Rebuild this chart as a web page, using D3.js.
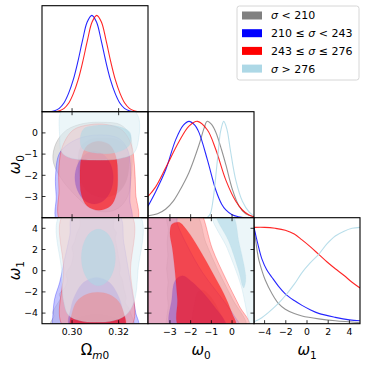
<!DOCTYPE html>
<html>
<head>
<meta charset="utf-8">
<script src="https://cdn.jsdelivr.net/npm/d3@7"></script>
<style>
  html, body { margin: 0; padding: 0; background: #fff; }
  svg { display: block; font-family: 'DejaVu Sans', sans-serif; }
</style>
</head>
<body>
<div id="chart"></div>
<script>
// series (legend order = drawing order)
const seriesLabels = ['σ < 210', '210 ≤ σ < 243', '243 ≤ σ ≤ 276', 'σ > 276'];
const seriesColors = ['#808080', '#0000ff', '#ff0000', '#add8e6'];

// tick values
const omTicks = [0.30, 0.32];
const w0Ticks = [-3, -2, -1, 0];
const w1Ticks = [-4, -2, 0, 2, 4];

// axis ranges
const omRange = [0.2871, 0.3326];
const w0RangeX = [-4.06, 1.06];
const w0RangeY = [-4.0, 1.0];
const w1Range = [-5, 5];

// 1D marginals [value, relative density]
const om1dBlue = [[0.2905,0],[0.2925,0.01],[0.2945,0.035],[0.2965,0.09],[0.2985,0.19],[0.3005,0.33],[0.3025,0.52],[0.3045,0.74],[0.3065,0.93],[0.3085,1],[0.3105,0.93],[0.3125,0.74],[0.3145,0.52],[0.3165,0.33],[0.3185,0.19],[0.3205,0.09],[0.3225,0.035],[0.3245,0.01],[0.3265,0]];
const om1dRed = [[0.2926,0],[0.2946,0.01],[0.2966,0.035],[0.2986,0.09],[0.3006,0.19],[0.3026,0.33],[0.3046,0.52],[0.3066,0.74],[0.3086,0.93],[0.3106,1],[0.3126,0.93],[0.3146,0.74],[0.3166,0.52],[0.3186,0.33],[0.3206,0.19],[0.3226,0.09],[0.3246,0.035],[0.3266,0.01],[0.3286,0]];

const w01dGray = [[-4.06,0.02],[-3.6,0.04],[-3.2,0.09],[-2.85,0.17],[-2.56,0.27],[-2.08,0.47],[-1.59,0.76],[-1.35,0.93],[-1.2,1],[-1.0,0.97],[-0.79,0.89],[-0.5,0.7],[-0.3,0.55],[0.02,0.29],[0.34,0.12],[0.66,0.04],[1.06,0.01]];
const w01dBlue = [[-4.06,0.12],[-3.69,0.27],[-3.2,0.5],[-2.72,0.81],[-2.35,0.96],[-2.08,1],[-1.8,0.96],[-1.59,0.88],[-1.19,0.6],[-0.79,0.29],[-0.5,0.14],[-0.3,0.08],[0.0,0.03],[0.3,0.01],[0.6,0],[1.06,0]];
const w01dRed = [[-4.06,0.22],[-3.69,0.32],[-3.2,0.52],[-2.56,0.79],[-2.08,0.95],[-1.67,1],[-1.19,0.91],[-0.79,0.71],[-0.3,0.39],[0.18,0.17],[0.5,0.08],[0.8,0.03],[1.06,0.01]];
const w01dLight = [[-1.2,0],[-1.05,0.04],[-0.92,0.18],[-0.8,0.4],[-0.68,0.66],[-0.55,0.9],[-0.4,1],[-0.25,0.92],[-0.08,0.7],[0.18,0.39],[0.5,0.17],[0.82,0.06],[1.06,0.02]];

const w11dGray = [[-5,1.0],[-4.8,0.83],[-4.56,0.67],[-4.25,0.55],[-3.93,0.45],[-3.3,0.31],[-2.7,0.21],[-2.05,0.15],[-1.2,0.105],[-0.47,0.08],[1.1,0.05],[2.67,0.03],[5,0.01]];
const w11dBlue = [[-5,1.0],[-4.6,0.81],[-4.25,0.67],[-3.8,0.56],[-3.3,0.48],[-2.7,0.39],[-2.05,0.31],[-1.2,0.24],[-0.47,0.19],[0.3,0.145],[1.1,0.107],[2.67,0.066],[4,0.04],[5,0.03]];
const w11dRed = [[-5,1.0],[-4,1.0],[-3,0.99],[-2.05,0.97],[-1.2,0.93],[-0.47,0.87],[0.3,0.8],[1.1,0.72],[1.9,0.64],[2.67,0.57],[3.5,0.5],[4.25,0.43],[5,0.37]];
const w11dLight = [[-5,0.02],[-4.3,0.06],[-3.6,0.12],[-2.8,0.2],[-2.05,0.29],[-1.2,0.41],[-0.47,0.53],[0.3,0.63],[1.1,0.72],[1.9,0.83],[2.67,0.91],[3.5,0.96],[4.25,0.99],[5,1.0]];

// 2D contours (95% outer, 68% inner) : Omega_m0 vs omega0
const omW0Gray95 = [[0.2918,-1.26],[0.2932,-0.47],[0.2976,0.13],[0.3048,0.44],[0.3135,0.50],[0.3207,0.39],[0.3248,-0.08],[0.3258,-0.94],[0.3254,-2.05],[0.3239,-2.99],[0.3200,-3.54],[0.3142,-3.73],[0.3077,-3.54],[0.3004,-2.83],[0.2947,-2.05]];
const omW0Gray68 = [[0.3025,-1.3],[0.3035,-0.7],[0.3075,-0.32],[0.3135,-0.24],[0.3195,-0.32],[0.3235,-0.7],[0.3245,-1.3],[0.3235,-2.2],[0.3200,-2.8],[0.3135,-3.05],[0.3070,-2.8],[0.3035,-2.2]];
const omW0Blue95 = [[0.2939,-4.2],[0.2932,-2.99],[0.2929,-2.05],[0.2947,-0.94],[0.3004,-0.39],[0.3077,-0.13],[0.3178,-0.16],[0.3215,-0.39],[0.3243,-0.94],[0.3251,-2.05],[0.3248,-3.15],[0.3251,-4.2]];
const omW0Blue68 = [[0.3095,-0.87],[0.3136,-1.03],[0.3166,-1.49],[0.3177,-2.11],[0.3166,-2.73],[0.3136,-3.19],[0.3095,-3.35],[0.3054,-3.19],[0.3024,-2.73],[0.3012,-2.11],[0.3024,-1.49],[0.3054,-1.03]];
const omW0Red95 = [[0.2954,-4.2],[0.2944,-2.67],[0.2944,-1.57],[0.2959,-0.63],[0.3004,0.13],[0.3077,0.39],[0.3150,0.39],[0.3215,0.13],[0.3254,-0.55],[0.3268,-1.57],[0.3273,-2.83],[0.3276,-4.2]];
const omW0Red68 = [[0.3034,-2.0],[0.3040,-1.2],[0.3065,-0.6],[0.3110,-0.39],[0.3160,-0.55],[0.3188,-1.1],[0.3196,-2.0],[0.3190,-2.9],[0.3165,-3.45],[0.3115,-3.65],[0.3065,-3.45],[0.3040,-2.9]];
const omW0Light95 = [[0.2951,0.95],[0.2947,-0.2],[0.2955,-0.9],[0.2990,-1.17],[0.3100,-1.28],[0.3200,-1.22],[0.3265,-0.95],[0.3287,-0.2],[0.3285,0.75],[0.3260,1.05],[0.2975,1.05]];
const omW0Light68 = [[0.3035,-0.3],[0.3045,-0.75],[0.3100,-0.95],[0.3190,-0.92],[0.3245,-0.6],[0.3250,0.0],[0.3200,0.3],[0.3100,0.35],[0.3050,0.2]];

// Omega_m0 vs omega1
const omW1Gray95 = [[0.2905,-5.3],[0.2910,-4.78],[0.2922,-4.3],[0.2918,-3.9],[0.2939,-3.05],[0.2950,-2.6],[0.2945,-2.2],[0.2968,-1.64],[0.2980,-0.9],[0.2974,-0.3],[0.2997,0.57],[0.3005,1.6],[0.3000,2.2],[0.3012,2.77],[0.3020,3.5],[0.3034,4.18],[0.3040,5.3],[0.3175,5.3],[0.3178,4.03],[0.3190,3.6],[0.3185,3.1],[0.3193,2.14],[0.3200,1.2],[0.3207,0.25],[0.3204,-0.3],[0.3215,-0.8],[0.3222,-1.64],[0.3232,-2.6],[0.3228,-3.0],[0.3243,-3.52],[0.3255,-4.2],[0.3265,-4.78],[0.3270,-5.3]];
const omW1Gray68 = [[0.3004,-5.3],[0.3015,-4.6],[0.3060,-4.2],[0.3105,-4.1],[0.3150,-4.2],[0.3195,-4.6],[0.3207,-5.3]];
const omW1Blue95 = [[0.2912,-5.3],[0.2915,-4.88],[0.2925,-2.67],[0.2947,-1.1],[0.2968,1.1],[0.2990,3.3],[0.3004,5.3],[0.3200,5.3],[0.3222,2.67],[0.3239,0.47],[0.3258,-2.04],[0.3273,-3.93],[0.3283,-5.3]];
const omW1Blue68 = [[0.2990,-5.3],[0.2995,-3.5],[0.3015,-2.2],[0.3050,-1.1],[0.3105,-0.63],[0.3160,-1.1],[0.3195,-2.2],[0.3215,-3.5],[0.3222,-5.3]];
const omW1Red95 = [[0.2964,-5.3],[0.2964,0],[0.2964,5.3],[0.3251,5.3],[0.3251,0],[0.3251,-5.3]];
const omW1Red68 = [[0.2995,-5.3],[0.3000,-4.0],[0.3020,-2.9],[0.3060,-2.25],[0.3110,-2.04],[0.3160,-2.25],[0.3200,-2.9],[0.3222,-4.0],[0.3227,-5.3]];
const omW1Light95 = [[0.2950,5.3],[0.2955,0],[0.2965,-3.0],[0.2985,-4.2],[0.3040,-4.75],[0.3105,-4.85],[0.3170,-4.75],[0.3230,-4.2],[0.3265,-3.0],[0.3283,0],[0.3287,5.3]];
const omW1Light68 = [[0.3113,3.93],[0.3149,3.57],[0.3176,2.59],[0.3186,1.25],[0.3176,-0.09],[0.3149,-1.07],[0.3113,-1.43],[0.3077,-1.07],[0.3050,-0.09],[0.3040,1.25],[0.3050,2.59],[0.3077,3.57]];

// omega0 vs omega1
const w0W1Gray95 = [[-3.12,-5.3],[-3.15,-4.3],[-3.08,-3.3],[-3.14,-2.2],[-3.09,-1.1],[-3.16,0.2],[-3.1,1.4],[-3.14,2.7],[-3.08,3.8],[-3.12,5.3],[-1.75,5.3],[-1.27,2.67],[-0.63,-0.16],[0.02,-2.67],[0.66,-5.3]];
const w0W1Gray68 = [[-1.85,-5.3],[-1.8,-2.9],[-1.65,-2.0],[-1.4,-1.85],[-1.1,-2.3],[-0.7,-3.5],[-0.4,-5.3]];
const w0W1Blue95 = [[-4.3,-5.3],[-4.3,0],[-4.3,5.3],[-2.72,5.3],[-2.64,4.4],[-2.08,2.05],[-1.43,-0.16],[-0.47,-2.67],[0.10,-4.25],[0.36,-5.3]];
const w0W1Blue68 = [[-2.96,-5.3],[-2.91,-2.67],[-2.75,-0.94],[-2.40,-0.47],[-1.91,-1.1],[-0.95,-3.15],[-0.30,-5.3]];
const w0W1Red95 = [[-4.3,-5.3],[-4.3,0],[-4.3,5.3],[-1.55,5.3],[-1.44,5.19],[-0.95,2.05],[-0.30,-0.78],[0.34,-3.3],[0.85,-5.3]];
const w0W1Red68 = [[-2.55,-5.3],[-2.64,-2.67],[-2.75,-0.16],[-2.88,2.05],[-3.0,3.6],[-2.9,4.4],[-2.56,4.56],[-2.16,3.77],[-1.59,2.05],[-0.95,-0.16],[-0.39,-2.2],[-0.02,-3.93],[0.18,-5.3]];
const w0W1Light95 = [[-0.92,5.3],[-0.22,2.05],[0.42,-1.3],[0.93,-5.3],[1.05,-5.3],[1.15,-2.67],[1.2,5.3]];
const w0W1Light68 = [[-0.75,5.3],[-0.14,2.67],[0.34,-0.16],[0.48,-1.3],[0.56,-1.62],[0.64,-1.2],[0.66,-0.47],[0.34,2.67],[0.0,5.3]];

(() => {
  const W = 366, H = 365;
  const S = 106, L = 42, T = 5.7;
  const fillAlpha = 0.58;   // same alpha for both levels
  const outerTint = 0.4;    // 95% level uses a lighter shade

  const svg = d3.select('#chart').append('svg')
    .attr('width', W).attr('height', H);

  const omX = d3.scaleLinear().domain(omRange).range([0, S]);
  const w0X = d3.scaleLinear().domain(w0RangeX).range([0, S]);
  const w0Y = d3.scaleLinear().domain(w0RangeY).range([S, 0]);
  const w1X = d3.scaleLinear().domain(w1Range).range([0, S]);
  const w1Y = d3.scaleLinear().domain(w1Range).range([S, 0]);
  const pY = d3.scaleLinear().domain([0, 1.1]).range([S, 0]);

  const fmt = v => (v < 0 ? '\u2212' : '') + Math.abs(v);

  let clipId = 0;
  function makePanel(col, row) {
    const id = 'clip' + (clipId++);
    svg.append('clipPath').attr('id', id)
      .append('rect').attr('width', S).attr('height', S);
    const g = svg.append('g')
      .attr('transform', `translate(${L + col * S},${T + row * S})`);
    const inner = g.append('g').attr('clip-path', `url(#${id})`);
    return { g, inner };
  }

  function drawContours(p, x, y, sets) {
    const path = d3.line()
      .x(d => x(d[0])).y(d => y(d[1]))
      .curve(d3.curveCatmullRomClosed.alpha(0.5));
    sets.forEach((s, i) => {
      const c = seriesColors[i];
      const light = d3.interpolateRgb('#ffffff', c)(outerTint);
      p.inner.append('path').attr('d', path(s[0]))
        .attr('fill', light).attr('fill-opacity', fillAlpha)
        .attr('stroke', c).attr('stroke-opacity', 0.4).attr('stroke-width', 0.7);
      p.inner.append('path').attr('d', path(s[1]))
        .attr('fill', c).attr('fill-opacity', fillAlpha)
        .attr('stroke', c).attr('stroke-opacity', 0.2).attr('stroke-width', 0.6);
    });
  }

  function drawCurves(p, x, curves) {
    const line = d3.line().x(d => x(d[0])).y(d => pY(d[1]))
      .curve(d3.curveCatmullRom.alpha(0.5));
    curves.forEach((c, i) => {
      if (!c) return;
      p.inner.append('path').attr('d', line(c))
        .attr('fill', 'none').attr('stroke', seriesColors[i])
        .attr('stroke-width', 1.1).attr('stroke-opacity', 0.85);
    });
  }

  function frame(p, x, xt, y, yt) {
    const tl = 3.5;
    const g = p.g.append('g').attr('stroke', '#000').attr('stroke-width', 0.8);
    xt.forEach(v => {
      g.append('line').attr('x1', x(v)).attr('x2', x(v)).attr('y1', S).attr('y2', S - tl);
      if (y) g.append('line').attr('x1', x(v)).attr('x2', x(v)).attr('y1', 0).attr('y2', tl);
    });
    if (y) yt.forEach(v => {
      g.append('line').attr('y1', y(v)).attr('y2', y(v)).attr('x1', 0).attr('x2', tl);
      g.append('line').attr('y1', y(v)).attr('y2', y(v)).attr('x1', S).attr('x2', S - tl);
    });
    p.g.append('rect').attr('width', S).attr('height', S)
      .attr('fill', 'none').attr('stroke', '#000').attr('stroke-width', 1.1);
  }

  function xLabels(p, x, ticks, f) {
    ticks.forEach(v => {
      p.g.append('text').attr('x', x(v)).attr('y', S + 11)
        .attr('text-anchor', 'middle').attr('font-size', 9.3)
        .text(f(v));
    });
  }
  function yLabels(p, y, ticks) {
    ticks.forEach(v => {
      p.g.append('text').attr('x', -4).attr('y', y(v)).attr('dy', '0.35em')
        .attr('text-anchor', 'end').attr('font-size', 9.3)
        .text(fmt(v));
    });
  }

  // 1D panels
  const d0 = makePanel(0, 0);
  drawCurves(d0, omX, [null, om1dBlue, om1dRed, null]);
  frame(d0, omX, omTicks, null, null);

  const d1 = makePanel(1, 1);
  drawCurves(d1, w0X, [w01dGray, w01dBlue, w01dRed, w01dLight]);
  frame(d1, w0X, w0Ticks, null, null);

  const d2 = makePanel(2, 2);
  drawCurves(d2, w1X, [w11dGray, w11dBlue, w11dRed, w11dLight]);
  frame(d2, w1X, w1Ticks, null, null);
  xLabels(d2, w1X, w1Ticks, fmt);

  // 2D panels
  const pa = makePanel(0, 1);
  drawContours(pa, omX, w0Y, [
    [omW0Gray95, omW0Gray68], [omW0Blue95, omW0Blue68],
    [omW0Red95, omW0Red68], [omW0Light95, omW0Light68]]);
  frame(pa, omX, omTicks, w0Y, w0Ticks);
  yLabels(pa, w0Y, w0Ticks);

  const pb = makePanel(0, 2);
  drawContours(pb, omX, w1Y, [
    [omW1Gray95, omW1Gray68], [omW1Blue95, omW1Blue68],
    [omW1Red95, omW1Red68], [omW1Light95, omW1Light68]]);
  frame(pb, omX, omTicks, w1Y, w1Ticks);
  yLabels(pb, w1Y, w1Ticks);
  xLabels(pb, omX, omTicks, v => v.toFixed(2));

  const pc = makePanel(1, 2);
  drawContours(pc, w0X, w1Y, [
    [w0W1Gray95, w0W1Gray68], [w0W1Blue95, w0W1Blue68],
    [w0W1Red95, w0W1Red68], [w0W1Light95, w0W1Light68]]);
  frame(pc, w0X, w0Ticks, w1Y, w1Ticks);
  xLabels(pc, w0X, w0Ticks, fmt);

  // axis labels
  function mathLabel(parent, x, y, main, sub, rotate) {
    const t = parent.append('text').attr('font-size', 15)
      .attr('text-anchor', 'middle')
      .attr('transform', `translate(${x},${y})` + (rotate ? ' rotate(-90)' : ''));
    t.append('tspan').attr('font-style', main.it ? 'italic' : 'normal').text(main.t);
    sub.forEach((s, i) => {
      t.append('tspan').attr('font-size', 10.5)
        .attr('dy', i === 0 ? 3.5 : 0)
        .attr('font-style', s.it ? 'italic' : 'normal').text(s.t);
    });
  }
  const bottomY = T + 3 * S + 31.5;
  mathLabel(svg, L + S * 0.5, bottomY, { t: 'Ω' }, [{ t: 'm', it: true }, { t: '0' }], false);
  mathLabel(svg, L + S * 1.5, bottomY, { t: 'ω', it: true }, [{ t: '0' }], false);
  mathLabel(svg, L + S * 2.5, bottomY, { t: 'ω', it: true }, [{ t: '1' }], false);
  mathLabel(svg, 20, T + S * 1.5, { t: 'ω', it: true }, [{ t: '0' }], true);
  mathLabel(svg, 20, T + S * 2.5, { t: 'ω', it: true }, [{ t: '1' }], true);

  // legend
  const lg = svg.append('g').attr('transform', 'translate(237,6)');
  lg.append('rect').attr('width', 122).attr('height', 74).attr('rx', 2.5)
    .attr('fill', '#fff').attr('fill-opacity', 0.8)
    .attr('stroke', '#cccccc').attr('stroke-width', 0.8);
  seriesLabels.forEach((lab, i) => {
    const cy = 9.5 + i * 17.7;
    lg.append('rect').attr('x', 5).attr('y', cy - 4).attr('width', 20).attr('height', 8)
      .attr('fill', seriesColors[i]);
    const t = lg.append('text').attr('x', 34).attr('y', cy).attr('dy', '0.36em')
      .attr('font-size', 11);
    lab.split(/(σ)/).forEach(part => {
      if (!part) return;
      t.append('tspan').attr('font-style', part === 'σ' ? 'italic' : 'normal').text(part);
    });
  });
})();
</script>
</body>
</html>
